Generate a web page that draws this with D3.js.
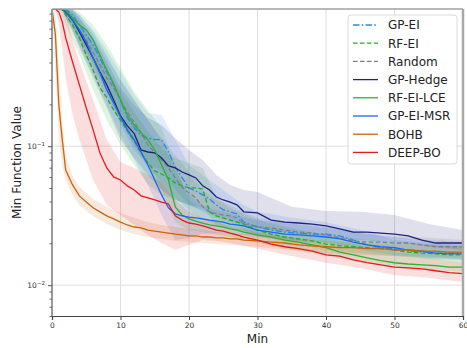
<!DOCTYPE html>
<html>
<head>
<meta charset="utf-8">
<script src="https://cdn.jsdelivr.net/npm/d3@7"></script>
<style>
  body { margin: 0; background: #fff; }
  svg { display: block; font-family: "DejaVu Sans", sans-serif; }
</style>
</head>
<body>
<svg id="chart" width="467" height="348"></svg>
<script>
// time grid (minutes) for the mean curves
var minutes = [0, 0.5, 1, 1.5, 2, 3, 4, 5, 6, 7, 8, 9, 10, 11, 12, 13, 14, 15, 16, 17, 18, 19, 20, 21, 22, 23, 24, 25, 26, 27, 28,
  30, 32, 34, 36, 38, 40, 42, 44, 46, 48, 50, 52, 54, 56, 58, 60];
// coarser grid for the shaded bands
var bandMinutes = [0, 0.5, 1, 1.5, 2, 3, 4, 6, 8, 10, 12, 14, 16, 18, 20, 22, 24, 26, 28, 30, 35, 40, 45, 50, 55, 60];

var methods = ['GP-EI', 'RF-EI', 'Random', 'GP-Hedge', 'RF-EI-LCE', 'GP-EI-MSR', 'BOHB', 'DEEP-BO'];

var gpEi = [0.971,0.971,0.971,0.971,0.971,0.879,0.745,0.631,0.535,0.431,0.341,0.276,0.215,0.160,0.135,0.120,0.114,0.112,0.111,0.0908,0.0708,0.0591,0.0501,0.0476,0.0446,0.0417,0.0378,0.0348,0.0337,0.0326,0.0284,
  0.0262,0.0249,0.0241,0.0237,0.0233,0.0233,0.0226,0.0211,0.0195,0.0186,0.0183,0.0176,0.0173,0.0170,0.0170,0.0170];
var rfEi = [0.971,0.971,0.971,0.955,0.879,0.745,0.601,0.453,0.353,0.263,0.223,0.182,0.154,0.129,0.109,0.0894,0.0758,0.0663,0.0631,0.0591,0.0544,0.0518,0.0501,0.0501,0.0492,0.0337,0.0315,0.0305,0.0294,0.0284,0.0275,
  0.0249,0.0233,0.0222,0.0215,0.0208,0.0197,0.0192,0.0189,0.0186,0.0183,0.0179,0.0173,0.0170,0.0168,0.0165,0.0165];
var random = [0.971,0.971,0.971,0.971,0.923,0.809,0.686,0.581,0.476,0.384,0.309,0.263,0.215,0.176,0.149,0.125,0.102,0.0894,0.0796,0.0697,0.0591,0.0509,0.0461,0.0425,0.0366,0.0337,0.0326,0.0320,0.0315,0.0305,0.0275,
  0.0262,0.0258,0.0249,0.0241,0.0237,0.0230,0.0219,0.0208,0.0204,0.0204,0.0201,0.0201,0.0195,0.0189,0.0189,0.0189];
var gpHedge = [0.971,0.971,0.971,0.971,0.923,0.809,0.663,0.535,0.431,0.341,0.276,0.215,0.165,0.140,0.123,0.0939,0.0908,0.0894,0.0822,0.0720,0.0697,0.0652,0.0621,0.0591,0.0518,0.0484,0.0431,0.0410,0.0396,0.0378,0.0337,
  0.0331,0.0294,0.0284,0.0280,0.0275,0.0267,0.0254,0.0241,0.0241,0.0237,0.0233,0.0226,0.0211,0.0201,0.0201,0.0201];
var rfEiLce = [0.971,0.971,0.971,0.971,0.955,0.837,0.745,0.686,0.581,0.453,0.353,0.280,0.215,0.168,0.142,0.125,0.111,0.0939,0.0732,0.0571,0.0366,0.0320,0.0300,0.0289,0.0280,0.0271,0.0267,0.0262,0.0254,0.0249,0.0241,
  0.0230,0.0222,0.0211,0.0204,0.0195,0.0186,0.0173,0.0165,0.0157,0.0150,0.0145,0.0142,0.0140,0.0138,0.0135,0.0135];
var gpEiMsr = [0.971,0.971,0.971,0.971,0.923,0.809,0.686,0.562,0.431,0.336,0.254,0.205,0.162,0.131,0.111,0.0908,0.0732,0.0571,0.0446,0.0360,0.0326,0.0315,0.0309,0.0305,0.0300,0.0294,0.0289,0.0284,0.0275,0.0271,0.0267,
  0.0249,0.0241,0.0233,0.0230,0.0226,0.0222,0.0215,0.0204,0.0195,0.0189,0.0186,0.0179,0.0176,0.0170,0.0168,0.0168];
var bohb = [0.971,0.631,0.198,0.111,0.0674,0.0526,0.0439,0.0396,0.0360,0.0337,0.0315,0.0300,0.0284,0.0271,0.0262,0.0258,0.0249,0.0245,0.0241,0.0237,0.0233,0.0230,0.0226,0.0226,0.0222,0.0222,0.0219,0.0219,0.0215,0.0215,0.0211,
  0.0208,0.0204,0.0201,0.0195,0.0192,0.0189,0.0186,0.0186,0.0183,0.0183,0.0179,0.0179,0.0176,0.0176,0.0173,0.0173];
var deepBo = [0.971,0.971,0.923,0.782,0.601,0.403,0.276,0.188,0.131,0.0894,0.0697,0.0601,0.0571,0.0518,0.0484,0.0439,0.0425,0.0410,0.0396,0.0384,0.0315,0.0294,0.0280,0.0275,0.0267,0.0258,0.0249,0.0245,0.0237,0.0230,0.0222,
  0.0211,0.0197,0.0189,0.0183,0.0176,0.0165,0.0162,0.0152,0.0145,0.0140,0.0135,0.0133,0.0131,0.0127,0.0123,0.0121];

// spread bands (upper and lower edge)
var gpEiHigh = [0.971,0.971,0.971,0.971,0.971,0.971,0.879,0.686,0.492,0.341,0.234,0.173,0.168,0.111,0.0732,0.0621,0.0526,0.0446,0.0378,0.0337,0.0305,0.0284,0.0249,0.0211,0.0201,0.0195];
var gpEiLow = [0.971,0.971,0.971,0.971,0.879,0.745,0.601,0.403,0.246,0.142,0.0939,0.0732,0.0674,0.0484,0.0378,0.0337,0.0305,0.0284,0.0249,0.0230,0.0211,0.0201,0.0179,0.0165,0.0157,0.0155];
var rfEiHigh = [0.971,0.971,0.971,0.971,0.971,0.923,0.782,0.535,0.366,0.246,0.176,0.127,0.0971,0.0822,0.0758,0.0697,0.0425,0.0360,0.0326,0.0294,0.0258,0.0230,0.0215,0.0204,0.0195,0.0189];
var rfEiLow = [0.971,0.971,0.955,0.879,0.745,0.581,0.453,0.254,0.154,0.102,0.0732,0.0526,0.0446,0.0410,0.0378,0.0360,0.0271,0.0258,0.0241,0.0226,0.0201,0.0179,0.0170,0.0162,0.0154,0.0150];
var randomHigh = [0.971,0.971,0.971,0.971,0.971,0.923,0.837,0.631,0.431,0.299,0.215,0.154,0.114,0.0864,0.0652,0.0484,0.0410,0.0378,0.0337,0.0305,0.0284,0.0262,0.0237,0.0226,0.0219,0.0211];
var randomLow = [0.971,0.971,0.971,0.955,0.837,0.686,0.535,0.353,0.223,0.149,0.102,0.0697,0.0552,0.0425,0.0348,0.0294,0.0271,0.0258,0.0237,0.0226,0.0211,0.0201,0.0186,0.0179,0.0173,0.0168];
var gpHedgeHigh = [0.971,0.971,0.971,0.971,0.971,0.955,0.837,0.601,0.403,0.263,0.198,0.160,0.142,0.114,0.0939,0.0796,0.0621,0.0526,0.0484,0.0468,0.0366,0.0342,0.0337,0.0320,0.0275,0.0249];
var gpHedgeLow = [0.971,0.971,0.971,0.955,0.837,0.663,0.509,0.309,0.188,0.111,0.0822,0.0621,0.0484,0.0410,0.0378,0.0348,0.0320,0.0294,0.0271,0.0258,0.0237,0.0222,0.0211,0.0204,0.0189,0.0179];
var rfEiLceHigh = [0.971,0.971,0.971,0.971,0.971,0.971,0.923,0.745,0.535,0.366,0.246,0.182,0.135,0.0732,0.0410,0.0348,0.0320,0.0294,0.0284,0.0271,0.0241,0.0219,0.0192,0.0173,0.0168,0.0162];
var rfEiLceLow = [0.971,0.971,0.971,0.955,0.879,0.709,0.581,0.384,0.246,0.154,0.102,0.0732,0.0484,0.0284,0.0249,0.0241,0.0230,0.0222,0.0211,0.0201,0.0179,0.0162,0.0147,0.0133,0.0129,0.0125];
var gpEiMsrHigh = [0.971,0.971,0.971,0.971,0.971,0.955,0.879,0.663,0.453,0.299,0.215,0.154,0.111,0.0674,0.0446,0.0378,0.0348,0.0326,0.0309,0.0294,0.0275,0.0258,0.0237,0.0222,0.0211,0.0204];
var gpEiMsrLow = [0.971,0.971,0.971,0.955,0.865,0.686,0.535,0.325,0.198,0.120,0.0796,0.0526,0.0320,0.0211,0.0219,0.0233,0.0237,0.0233,0.0230,0.0222,0.0208,0.0195,0.0179,0.0165,0.0157,0.0152];
var bohbHigh = [0.971,0.879,0.353,0.154,0.0864,0.0611,0.0509,0.0417,0.0366,0.0331,0.0305,0.0284,0.0271,0.0262,0.0254,0.0249,0.0241,0.0237,0.0233,0.0230,0.0219,0.0208,0.0201,0.0197,0.0195,0.0192];
var bohbLow = [0.971,0.353,0.111,0.0732,0.0571,0.0446,0.0378,0.0315,0.0275,0.0249,0.0233,0.0222,0.0215,0.0208,0.0204,0.0201,0.0197,0.0195,0.0192,0.0189,0.0179,0.0170,0.0165,0.0162,0.0160,0.0157];
var deepBoHigh = [0.971,0.971,0.971,0.971,0.923,0.581,0.403,0.215,0.111,0.0770,0.0697,0.0621,0.0552,0.0410,0.0337,0.0305,0.0284,0.0267,0.0254,0.0241,0.0219,0.0195,0.0179,0.0165,0.0157,0.0147];
var deepBoLow = [0.971,0.955,0.745,0.492,0.309,0.168,0.111,0.0571,0.0378,0.0320,0.0271,0.0230,0.0201,0.0179,0.0195,0.0211,0.0208,0.0201,0.0192,0.0183,0.0162,0.0145,0.0133,0.0118,0.0113,0.0105];

var xTicks = [0, 10, 20, 30, 40, 50, 60];
var yMajor = [0.01, 0.1];
var yMinor = [0.006, 0.007, 0.008, 0.009, 0.02, 0.03, 0.04, 0.05, 0.06, 0.07, 0.08, 0.09, 0.2, 0.3, 0.4, 0.5, 0.6, 0.7, 0.8, 0.9];

var series = [
  { name: methods[0], mean: gpEi,    high: gpEiHigh,    low: gpEiLow,    color: '#2e86f2', dash: '6.5,2.2,1.6,2.2' },
  { name: methods[1], mean: rfEi,    high: rfEiHigh,    low: rfEiLow,    color: '#1fae1f', dash: '4.5,2.5' },
  { name: methods[2], mean: random,  high: randomHigh,  low: randomLow,  color: '#808080', dash: '4.5,2.5' },
  { name: methods[3], mean: gpHedge, high: gpHedgeHigh, low: gpHedgeLow, color: '#20207e', dash: null },
  { name: methods[4], mean: rfEiLce, high: rfEiLceHigh, low: rfEiLceLow, color: '#2eb12e', dash: null },
  { name: methods[5], mean: gpEiMsr, high: gpEiMsrHigh, low: gpEiMsrLow, color: '#1769ee', dash: null },
  { name: methods[6], mean: bohb,    high: bohbHigh,    low: bohbLow,    color: '#c6650c', dash: null },
  { name: methods[7], mean: deepBo,  high: deepBoHigh,  low: deepBoLow,  color: '#e51b1b', dash: null }
];

function drawChart() {
  var pL = 52, pR = 463, pT = 9, pB = 316;
  var svg = d3.select('#chart');

  var x = d3.scaleLinear().domain([0, 60]).range([pL, pR]);
  var y = d3.scaleLog().domain([0.006, 0.97]).range([pB, pT]);

  svg.append('defs').append('clipPath').attr('id', 'plotclip')
    .append('rect').attr('x', pL).attr('y', pT).attr('width', pR - pL).attr('height', pB - pT);

  // grid
  var grid = svg.append('g').attr('stroke', '#dedede').attr('stroke-width', 1);
  grid.selectAll('line.vx').data(xTicks).enter().append('line')
    .attr('x1', function(d) { return x(d); }).attr('x2', function(d) { return x(d); })
    .attr('y1', pT).attr('y2', pB);
  grid.selectAll('line.hy').data(yMajor).enter().append('line')
    .attr('y1', function(d) { return y(d); }).attr('y2', function(d) { return y(d); })
    .attr('x1', pL).attr('x2', pR);

  var plot = svg.append('g').attr('clip-path', 'url(#plotclip)');

  var area = d3.area()
    .x(function(d) { return x(d.t); })
    .y0(function(d) { return y(d.lo); })
    .y1(function(d) { return y(d.hi); });

  var line = d3.line()
    .x(function(d) { return x(d.t); })
    .y(function(d) { return y(d.v); });

  series.forEach(function(s) {
    var band = bandMinutes.map(function(t, i) { return { t: t, lo: s.low[i], hi: s.high[i] }; });
    plot.append('path')
      .attr('d', area(band))
      .attr('fill', s.color)
      .attr('fill-opacity', 0.14)
      .attr('stroke', 'none');
  });

  series.forEach(function(s) {
    var pts = minutes.map(function(t, i) { return { t: t, v: s.mean[i] }; });
    plot.append('path')
      .attr('d', line(pts))
      .attr('fill', 'none')
      .attr('stroke', s.color)
      .attr('stroke-width', 1.3)
      .attr('stroke-dasharray', s.dash);
  });

  // spines
  svg.append('line').attr('x1', pL).attr('x2', pR).attr('y1', pT).attr('y2', pT)
    .attr('stroke', '#a0a0a0').attr('stroke-width', 1.5);
  svg.append('line').attr('x1', pR).attr('x2', pR).attr('y1', pT).attr('y2', pB)
    .attr('stroke', '#a8a8a8').attr('stroke-width', 2.5);
  svg.append('line').attr('x1', pL).attr('x2', pL).attr('y1', pT).attr('y2', pB)
    .attr('stroke', '#9a9a9a').attr('stroke-width', 2);

  // x axis
  var xAxis = svg.append('g').attr('transform', 'translate(0,' + pB + ')')
    .call(d3.axisBottom(x).tickValues(xTicks).tickSize(4).tickPadding(3).tickFormat(d3.format('d')));
  xAxis.select('.domain').attr('stroke', '#444').attr('stroke-width', 1.2);
  xAxis.selectAll('.tick line').attr('stroke', '#444');
  xAxis.selectAll('.tick text').attr('font-size', 7.5).attr('fill', '#333').attr('font-family', 'DejaVu Sans');

  // y axis: major ticks with 10^n labels, minor ticks without
  var yAxis = svg.append('g').attr('transform', 'translate(' + pL + ',0)')
    .call(d3.axisLeft(y).tickValues(yMajor).tickSize(4).tickPadding(3).tickFormat(''));
  yAxis.select('.domain').remove();
  yAxis.selectAll('.tick line').attr('stroke', '#555');
  yAxis.selectAll('.tick text').each(function(d) {
    var t = d3.select(this).attr('font-size', 7.5).attr('fill', '#333').attr('font-family', 'DejaVu Sans');
    t.text('10');
    t.append('tspan').attr('dy', -3.5).attr('font-size', 5.5).text('\u2212' + (-Math.round(Math.log10(d))));
  });
  var yMinorAxis = svg.append('g').attr('transform', 'translate(' + pL + ',0)')
    .call(d3.axisLeft(y).tickValues(yMinor).tickSize(2.5).tickFormat(''));
  yMinorAxis.select('.domain').remove();
  yMinorAxis.selectAll('.tick line').attr('stroke', '#666');

  // axis labels
  svg.append('text').attr('x', (pL + pR) / 2).attr('y', 343)
    .attr('text-anchor', 'middle').attr('font-size', 12).attr('fill', '#222').text('Min');
  svg.append('text').attr('transform', 'translate(21,' + ((pT + pB) / 2) + ') rotate(-90)')
    .attr('text-anchor', 'middle').attr('font-size', 12).attr('fill', '#222').text('Min Function Value');

  // legend
  var lg = svg.append('g');
  lg.append('rect').attr('x', 348).attr('y', 15).attr('width', 109).attr('height', 149).attr('rx', 3)
    .attr('fill', '#fff').attr('fill-opacity', 0.85).attr('stroke', '#d0d0d0').attr('stroke-width', 0.8);
  var rows = lg.selectAll('g.row').data(series).enter().append('g')
    .attr('transform', function(d, i) { return 'translate(0,' + (25 + i * 18.2) + ')'; });
  rows.append('line').attr('x1', 353).attr('x2', 378).attr('y1', 0).attr('y2', 0)
    .attr('stroke', function(d) { return d.color; }).attr('stroke-width', 1.3)
    .attr('stroke-dasharray', function(d) { return d.dash; });
  rows.append('text').attr('x', 388).attr('y', 4.3).attr('font-size', 12).attr('fill', '#222')
    .text(function(d) { return d.name; });
}

drawChart();
</script>
</body>
</html>
